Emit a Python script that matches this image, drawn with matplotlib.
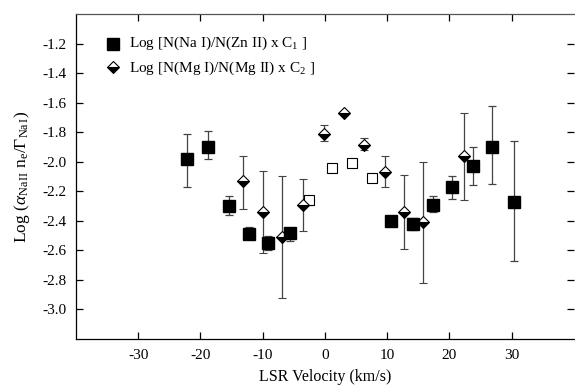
import matplotlib.pyplot as plt

plt.rcParams['font.family'] = ['Liberation Serif', 'DejaVu Serif']
plt.rcParams['mathtext.fontset'] = 'custom'
plt.rcParams['mathtext.rm'] = 'Liberation Serif'
plt.rcParams['mathtext.it'] = 'Liberation Serif:italic'

# Log [N(Na I)/N(Zn II) x C1] - filled squares
na_v = [-22.2, -18.7, -15.4, -12.2, -9.1, -5.6, 10.7, 14.1, 17.3, 20.5, 23.8, 26.9, 30.4]
na_y = [-1.98, -1.90, -2.30, -2.49, -2.55, -2.48, -2.40, -2.42, -2.29, -2.17, -2.03, -1.90, -2.27]
na_hi = [-1.81, -1.79, -2.23, -2.44, -2.50, -2.45, -2.40, -2.38, -2.23, -2.10, -1.90, -1.62, -1.86]
na_lo = [-2.17, -1.98, -2.36, -2.52, -2.60, -2.54, -2.40, -2.46, -2.34, -2.25, -2.16, -2.15, -2.67]

# Log [N(Mg I)/N(Mg II) x C2] - half filled diamonds
mg_v = [-13.1, -9.9, -6.9, -3.5, -0.1, 3.1, 6.3, 9.6, 12.7, 15.7, 22.4]
mg_y = [-2.13, -2.34, -2.51, -2.29, -1.81, -1.67, -1.89, -2.07, -2.34, -2.41, -1.96]
mg_hi = [-1.96, -2.06, -2.10, -2.12, -1.75, -1.67, -1.84, -1.96, -2.09, -2.00, -1.67]
mg_lo = [-2.32, -2.62, -2.92, -2.47, -1.86, -1.67, -1.92, -2.17, -2.59, -2.82, -2.26]

# open squares
op_v = [-2.6, 1.1, 4.3, 7.5]
op_y = [-2.26, -2.04, -2.01, -2.11]
op_hi = [-2.23, -2.04, -2.01, -2.11]
op_lo = [-2.29, -2.04, -2.01, -2.11]


def errs(y, hi, lo):
    return [[a - b for a, b in zip(y, lo)], [b - a for a, b in zip(y, hi)]]


fig = plt.figure(figsize=(5.75, 3.9), dpi=100)
ax = fig.add_axes([0.132, 0.131, 0.866, 0.833])

ebkw = dict(ecolor='#444444', elinewidth=0.9, capsize=3, capthick=0.9, linestyle='none')

ax.errorbar(op_v, op_y, yerr=errs(op_y, op_hi, op_lo), marker='s', ms=6.5,
            mfc='white', mec='black', mew=0.8, **ebkw)
ax.errorbar(mg_v, mg_y, yerr=errs(mg_y, mg_hi, mg_lo), marker='D', ms=6.5,
            mfc='black', mfcalt='white', fillstyle='bottom', mec='black', mew=0.8, **ebkw)
ax.errorbar(na_v, na_y, yerr=errs(na_y, na_hi, na_lo), marker='s', ms=8,
            mfc='black', mec='black', **ebkw)

# legend drawn by hand-placed handles
ax.plot([-34.1], [-1.2], marker='s', ms=8, color='black', linestyle='none')
ax.plot([-34.1], [-1.36], marker='D', ms=6.5, mfc='black', mfcalt='white',
        fillstyle='bottom', mec='black', mew=0.8, linestyle='none')
ax.text(-31.4, -1.2, r'Log [N(Na I)/N(Zn II) x C$_1$ ]', fontsize=11, va='center')
ax.text(-31.4, -1.365, r'Log [N(Mg I)/N(Mg II) x C$_2$ ]', fontsize=11, va='center')

ax.set_xlim(-40, 40)
ax.set_ylim(-3.2, -1.0)
ax.set_xticks([-30, -20, -10, 0, 10, 20, 30])
ax.set_yticks([-3.0, -2.8, -2.6, -2.4, -2.2, -2.0, -1.8, -1.6, -1.4, -1.2])
ax.set_yticklabels(['-3.0', '-2.8', '-2.6', '-2.4', '-2.2', '-2.0', '-1.8', '-1.6', '-1.4', '-1.2'])
ax.set_xticklabels(['-30', '-20', '-10', '0', '10', '20', '30'])
ax.tick_params(direction='in', top=True, right=True, length=5, width=0.9, labelsize=11, pad=7)
for s in ax.spines.values():
    s.set_linewidth(0.9)
ax.spines['right'].set_visible(False)
ax.spines['top'].set_color('#555555')

ax.set_xlabel('LSR Velocity (km/s)', fontsize=11.5, labelpad=5)
ax.set_ylabel(r'Log ($\alpha_{\rm Na\,II}$ n$_{\rm e}$/$\Gamma_{\rm Na\,I}$)', fontsize=12.5, labelpad=7)

fig.savefig('out.png', dpi=100)
